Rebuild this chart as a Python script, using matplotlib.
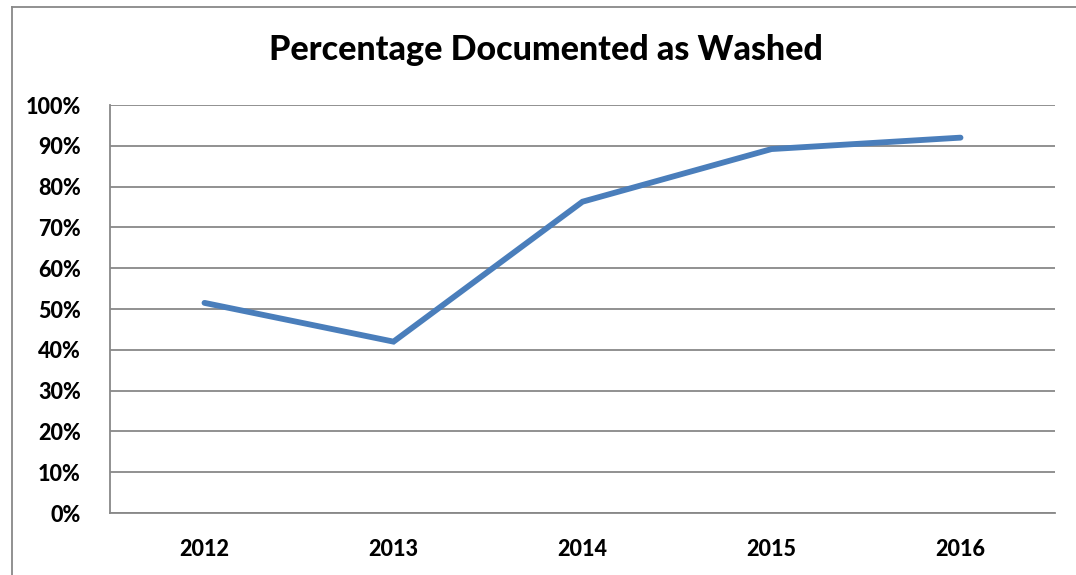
import matplotlib
matplotlib.use("Agg")
import matplotlib.pyplot as plt
from matplotlib.lines import Line2D

years = ["2012", "2013", "2014", "2015", "2016"]
pct_washed = [51.5, 42.0, 76.3, 89.2, 92.0]
y_ticks = [0, 10, 20, 30, 40, 50, 60, 70, 80, 90, 100]
y_tick_labels = [f"{v}%" for v in y_ticks]
title = "Percentage Documented as Washed"

W, H = 1076, 575
fig = plt.figure(figsize=(W / 100, H / 100), dpi=100)
fig.patch.set_facecolor("white")

left, right, top, bottom = 110, 1055, 105, 513
ax = fig.add_axes([left / W, 1 - bottom / H, (right - left) / W, (bottom - top) / H])

x = list(range(len(years)))
ax.plot(x, pct_washed, color="#4a7ebb", linewidth=4.2, solid_capstyle="round", solid_joinstyle="miter", zorder=3)

ax.set_xlim(-0.5, len(years) - 0.5)
ax.set_ylim(0, 100)
ax.set_yticks(y_ticks)
ax.set_yticklabels(y_tick_labels)
ax.set_xticks(x)
ax.set_xticklabels(years)
ax.grid(axis="y", color="#888888", linewidth=1.3)
ax.set_axisbelow(True)
for s in ["top", "right"]:
    ax.spines[s].set_visible(False)
for s in ["left", "bottom"]:
    ax.spines[s].set_color("#888888")
    ax.spines[s].set_linewidth(1.3)
ax.tick_params(length=0)
ax.tick_params(axis="y", pad=21)
ax.tick_params(axis="x", pad=19)
for lbl in ax.get_yticklabels() + ax.get_xticklabels():
    lbl.set_fontfamily("Lato")
    lbl.set_fontweight(900)
    lbl.set_fontsize(15.5)

fig.text(546 / W, 1 - 50 / H, title, ha="center", va="center",
         fontfamily="Lato", fontweight=900, fontsize=24.5)

# outer chart frame (partially visible)
fig.add_artist(Line2D([12 / W, 12 / W], [0, 1 - 7 / H], transform=fig.transFigure, color="#888888", linewidth=1.3))
fig.add_artist(Line2D([12 / W, 1], [1 - 7 / H, 1 - 7 / H], transform=fig.transFigure, color="#888888", linewidth=1.3))

fig.savefig("out.png", dpi=100)
